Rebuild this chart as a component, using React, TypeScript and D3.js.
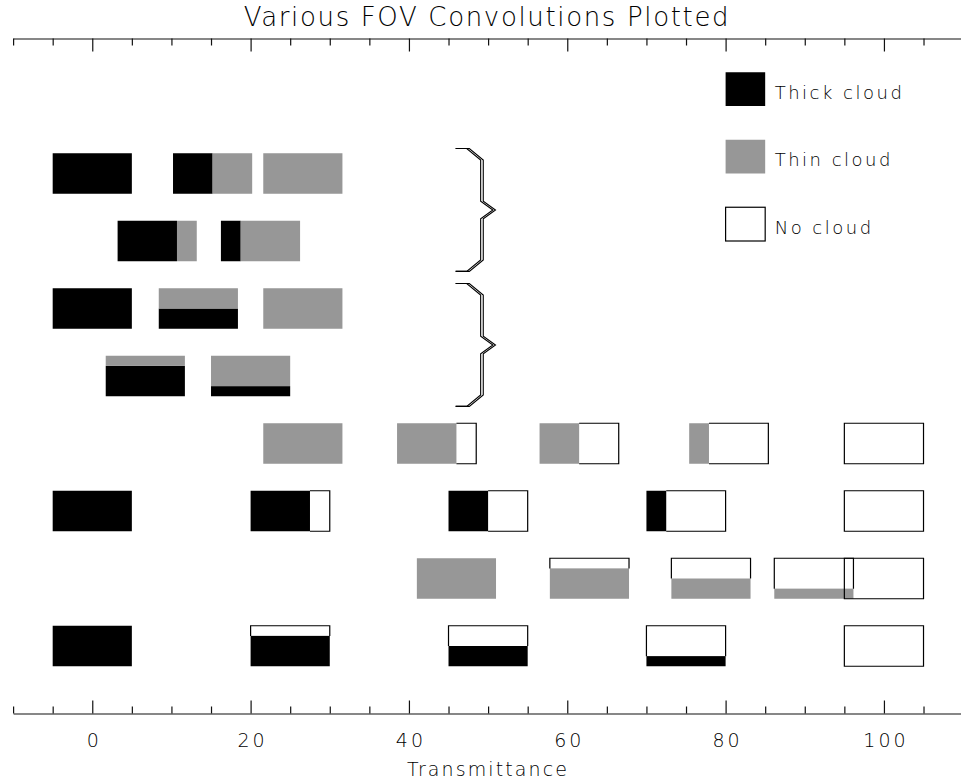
import React, { useEffect, useRef } from 'react';
import * as d3 from 'd3';

type Box = { t: number; thick: number; thin: number };

// each row: box centre (transmittance) and the fraction of thick / thin cloud
const row8: Box[] = [
  { t: 0, thick: 1, thin: 0 },
  { t: 15.2, thick: 0.5, thin: 0.5 },
  { t: 26.6, thick: 0, thin: 1 },
];
const row7: Box[] = [
  { t: 8.2, thick: 0.75, thin: 0.25 },
  { t: 21.25, thick: 0.25, thin: 0.75 },
];
const row6: Box[] = [
  { t: 0, thick: 1, thin: 0 },
  { t: 13.4, thick: 0.5, thin: 0.5 },
  { t: 26.6, thick: 0, thin: 1 },
];
const row5: Box[] = [
  { t: 6.7, thick: 0.75, thin: 0.25 },
  { t: 20, thick: 0.25, thin: 0.75 },
];
const row4: Box[] = [
  { t: 26.6, thick: 0, thin: 1 },
  { t: 43.5, thick: 0, thin: 0.75 },
  { t: 61.5, thick: 0, thin: 0.5 },
  { t: 80.4, thick: 0, thin: 0.25 },
  { t: 100, thick: 0, thin: 0 },
];
const row3: Box[] = [
  { t: 0, thick: 1, thin: 0 },
  { t: 25, thick: 0.75, thin: 0 },
  { t: 50, thick: 0.5, thin: 0 },
  { t: 75, thick: 0.25, thin: 0 },
  { t: 100, thick: 0, thin: 0 },
];
const row2: Box[] = [
  { t: 46, thick: 0, thin: 1 },
  { t: 62.8, thick: 0, thin: 0.75 },
  { t: 78.15, thick: 0, thin: 0.5 },
  { t: 91.15, thick: 0, thin: 0.25 },
  { t: 100, thick: 0, thin: 0 },
];
const row1: Box[] = [
  { t: 0, thick: 1, thin: 0 },
  { t: 25, thick: 0.75, thin: 0 },
  { t: 50, thick: 0.5, thin: 0 },
  { t: 75, thick: 0.25, thin: 0 },
  { t: 100, thick: 0, thin: 0 },
];

const rows = [row8, row7, row6, row5, row4, row3, row2, row1];
const rowLevels = [8, 7, 6, 5, 4, 3, 2, 1];
// 'h' = split left to right, 'v' = split bottom to top
const rowLayouts = ['h', 'h', 'v', 'v', 'h', 'h', 'v', 'v'];

const legendLabels = ['Thick cloud', 'Thin cloud', 'No cloud'];
const legendLevels = [9, 8, 7];
const legendKinds = ['thick', 'thin', 'clear'];

const braceSpans: [number, number][] = [
  [8.37, 6.55],
  [6.37, 4.55],
];

const majorTicks = [0, 20, 40, 60, 80, 100];
const minorTicks = [-10, -5, 5, 10, 15, 25, 30, 35, 45, 50, 55, 65, 70, 75, 85, 90, 95, 105];

const WIDTH = 961;
const HEIGHT = 782;
const BOX_W = 10;
const BOX_H = 0.6;
const GRAY = '#979797';
const FONT = '"DejaVu Sans", sans-serif';

const Chart = () => {
  const ref = useRef<SVGSVGElement>(null);

  useEffect(() => {
    const svg = d3.select(ref.current);
    svg.selectAll('*').remove();

    const x = d3.scaleLinear().domain([-10, 110]).range([13.1, 963.1]);
    const y = d3.scaleLinear().domain([0, 10]).range([713.5, 38.5]);

    // title
    svg.append('text')
      .attr('x', 487)
      .attr('y', 26)
      .attr('text-anchor', 'middle')
      .attr('font-family', FONT)
      .attr('font-weight', 200)
      .attr('font-size', 26)
      .attr('letter-spacing', 1.65)
      .attr('fill', '#000')
      .text('Various FOV Convolutions Plotted');

    // axes
    const styleAxis = (g: d3.Selection<SVGGElement, unknown, null, undefined>) => {
      g.selectAll('path, line').attr('stroke', '#111').attr('stroke-width', 1.2);
      g.selectAll('text')
        .attr('font-family', FONT)
        .attr('font-weight', 200)
        .attr('font-size', 19)
        .attr('letter-spacing', 3)
        .attr('dx', 1.5)
        .attr('fill', '#000');
    };

    const bottom = svg.append('g')
      .attr('transform', `translate(0,${y(0)})`)
      .call(d3.axisBottom(x).tickValues(majorTicks).tickSize(-13).tickSizeOuter(0).tickPadding(20).tickFormat(d3.format('d')));
    bottom.append('g')
      .call(d3.axisBottom(x).tickValues(minorTicks).tickSize(-7).tickSizeOuter(0).tickFormat(() => ''))
      .select('.domain').remove();
    styleAxis(bottom);

    const top = svg.append('g')
      .attr('transform', `translate(0,${y(10)})`)
      .call(d3.axisTop(x).tickValues(majorTicks).tickSize(-13).tickSizeOuter(0).tickFormat(() => ''));
    top.append('g')
      .call(d3.axisTop(x).tickValues(minorTicks).tickSize(-7).tickSizeOuter(0).tickFormat(() => ''))
      .select('.domain').remove();
    styleAxis(top);

    svg.append('text')
      .attr('x', 488)
      .attr('y', 776)
      .attr('text-anchor', 'middle')
      .attr('font-family', FONT)
      .attr('font-weight', 200)
      .attr('font-size', 19)
      .attr('letter-spacing', 2.1)
      .attr('fill', '#000')
      .text('Transmittance');

    // boxes
    const plot = svg.append('g');
    rows.forEach((row, i) => {
      const level = rowLevels[i];
      const layout = rowLayouts[i];
      row.forEach(b => {
        const x0 = b.t - BOX_W / 2;
        const x1 = b.t + BOX_W / 2;
        const y0 = level - BOX_H / 2;
        const y1 = level + BOX_H / 2;
        const clear = 1 - b.thick - b.thin;
        const g = plot.append('g');

        if (layout === 'h') {
          const xa = x0 + BOX_W * b.thick;
          const xb = xa + BOX_W * b.thin;
          if (b.thick > 0) {
            g.append('rect').attr('x', x(x0)).attr('y', y(y1))
              .attr('width', x(xa) - x(x0)).attr('height', y(y0) - y(y1)).attr('fill', '#000');
          }
          if (b.thin > 0) {
            g.append('rect').attr('x', x(xa)).attr('y', y(y1))
              .attr('width', x(xb) - x(xa)).attr('height', y(y0) - y(y1)).attr('fill', GRAY);
          }
          if (clear > 0.001) {
            const p = d3.path();
            if (clear > 0.999) {
              p.rect(x(x0), y(y1), x(x1) - x(x0), y(y0) - y(y1));
            } else {
              p.moveTo(x(xb), y(y1));
              p.lineTo(x(x1), y(y1));
              p.lineTo(x(x1), y(y0));
              p.lineTo(x(xb), y(y0));
            }
            g.append('path').attr('d', p.toString()).attr('fill', 'none').attr('stroke', '#000').attr('stroke-width', 1.2);
          }
        } else {
          const ya = y0 + BOX_H * b.thick;
          const yb = ya + BOX_H * b.thin;
          if (b.thick > 0) {
            g.append('rect').attr('x', x(x0)).attr('y', y(ya))
              .attr('width', x(x1) - x(x0)).attr('height', y(y0) - y(ya)).attr('fill', '#000');
          }
          if (b.thin > 0) {
            g.append('rect').attr('x', x(x0)).attr('y', y(yb))
              .attr('width', x(x1) - x(x0)).attr('height', y(ya) - y(yb)).attr('fill', GRAY);
          }
          if (clear > 0.001) {
            const p = d3.path();
            if (clear > 0.999) {
              p.rect(x(x0), y(y1), x(x1) - x(x0), y(y0) - y(y1));
            } else {
              p.moveTo(x(x0), y(yb));
              p.lineTo(x(x0), y(y1));
              p.lineTo(x(x1), y(y1));
              p.lineTo(x(x1), y(yb));
            }
            g.append('path').attr('d', p.toString()).attr('fill', 'none').attr('stroke', '#000').attr('stroke-width', 1.2);
          }
        }
      });
    });

    // braces (drawn as a double line)
    const line = d3.line<[number, number]>().x(d => x(d[0])).y(d => y(d[1]));
    braceSpans.forEach(([t, b]) => {
      const mid = (t + b) / 2;
      [0, 0.33].forEach(off => {
        const pts: [number, number][] = [
          [45.9, t], [47.3 + off, t], [49.06 + off, t - 0.17], [49.06 + off, mid + 0.13],
          [50.6 + off, mid], [49.06 + off, mid - 0.13], [49.06 + off, b + 0.17],
          [47.3 + off, b], [45.9, b],
        ];
        svg.append('path').attr('d', line(pts)).attr('fill', 'none')
          .attr('stroke', '#000').attr('stroke-width', 1.1);
      });
    });

    // legend
    legendLabels.forEach((label, i) => {
      const lv = legendLevels[i];
      const kind = legendKinds[i];
      svg.append('rect')
        .attr('x', x(80)).attr('y', y(lv + 0.5))
        .attr('width', x(85) - x(80)).attr('height', y(lv) - y(lv + 0.5))
        .attr('fill', kind === 'thick' ? '#000' : kind === 'thin' ? GRAY : 'none')
        .attr('stroke', kind === 'clear' ? '#000' : 'none')
        .attr('stroke-width', 1.2);
      svg.append('text')
        .attr('x', x(86.2))
        .attr('y', y(lv + 0.25) + 9.5)
        .attr('font-family', FONT)
        .attr('font-weight', 200)
        .attr('font-size', 18)
        .attr('letter-spacing', 2.5)
        .attr('fill', '#000')
        .text(label);
    });
  }, []);

  return <svg ref={ref} width={WIDTH} height={HEIGHT} style={{ display: 'block' }} />;
};

export default function App() {
  return (
    <div style={{ position: 'absolute', left: 0, top: 0, background: '#fff' }}>
      <Chart />
    </div>
  );
}
